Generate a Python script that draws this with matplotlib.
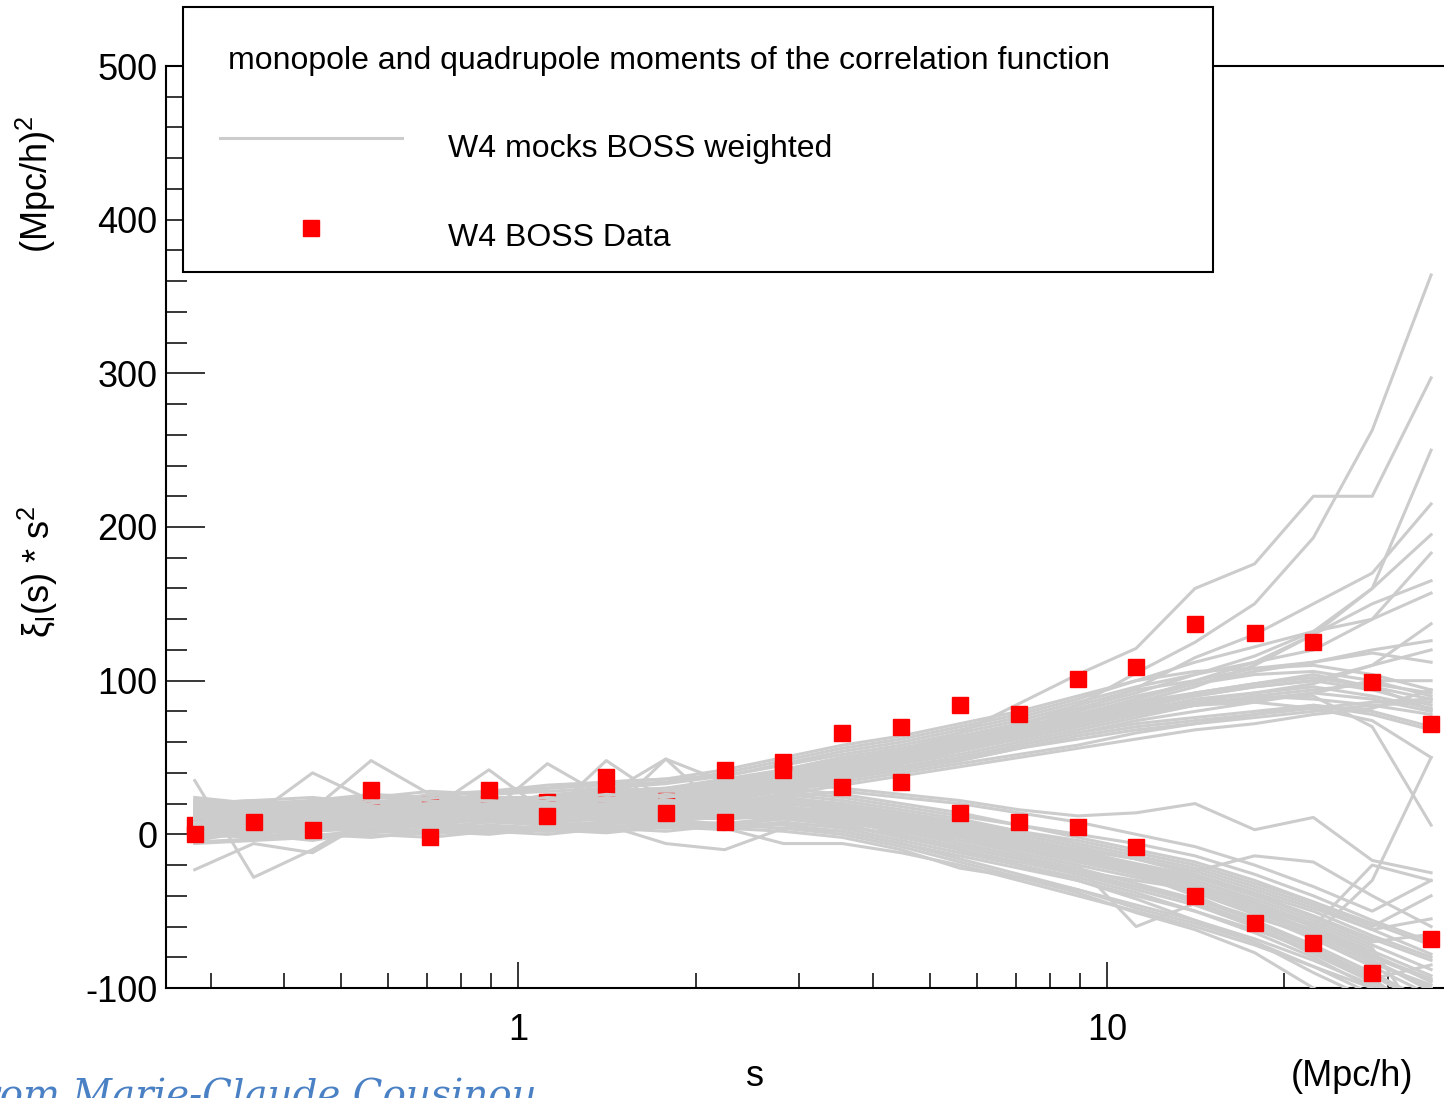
import matplotlib
matplotlib.use("Agg")
import matplotlib.pyplot as plt
from matplotlib.patches import Rectangle
from matplotlib.lines import Line2D
from matplotlib.ticker import FixedLocator, NullFormatter

plt.rcParams['font.family'] = ['Liberation Sans', 'DejaVu Sans']
plt.rcParams['mathtext.fontset'] = 'custom'
plt.rcParams['mathtext.rm'] = 'Liberation Sans'
plt.rcParams['mathtext.it'] = 'Liberation Sans'
plt.rcParams['mathtext.default'] = 'regular'
plt.rcParams['axes.unicode_minus'] = False

# separation bins (Mpc/h), 0.1 dex wide
s_bins = [0.282, 0.355, 0.447, 0.562, 0.708, 0.891, 1.12, 1.41, 1.78, 2.24, 2.82,
          3.55, 4.47, 5.62, 7.08, 8.91, 11.2, 14.1, 17.8, 22.4, 28.2, 35.5]

# BOSS W4 data: xi_0 * s^2 and xi_2 * s^2
data_mono = [6, 12, 15, 17, 19, 20, 21, 26, 22, 42, 47, 66, 70, 84, 78, 101, 109, 137, 131, 125, 99, 72]
data_quad = [0, 8, 3, 29, -2, 29, 12, 37, 14, 8, 42, 31, 34, 14, 8, 5, -8, -40, -58, -71, -90, -68]

# weighted mocks, monopole
mocks_mono = [
    [12, 14, 10, 18, 15, 20, 18, 22, 25, 30, 36, 44, 50, 57, 64, 72, 80, 88, 92, 96, 90, 82],
    [5, 8, 12, 10, 14, 12, 18, 20, 21, 26, 32, 40, 46, 55, 62, 70, 78, 84, 90, 94, 98, 92],
    [18, 16, 20, 22, 18, 24, 22, 28, 30, 34, 40, 48, 54, 62, 70, 78, 86, 92, 98, 102, 96, 88],
    [0, 4, 6, 8, 10, 12, 14, 16, 18, 24, 30, 38, 44, 50, 58, 66, 72, 76, 80, 84, 80, 70],
    [22, 20, 18, 25, 22, 26, 28, 30, 33, 38, 45, 52, 58, 66, 74, 84, 94, 100, 108, 110, 104, 94],
    [8, 10, 14, 12, 16, 18, 16, 20, 24, 28, 34, 42, 48, 56, 66, 76, 88, 100, 112, 130, 150, 165],
    [35, -28, -10, 12, 14, 16, 20, 22, 24, 28, 35, 42, 50, 58, 66, 75, 84, 90, 96, 100, 110, 120],
    [10, 12, 40, 22, 20, 18, 24, 26, 28, 32, 38, 46, 52, 60, 68, 80, 95, 115, 130, 150, 170, 215],
    [14, 12, 16, 48, 26, 22, 20, 24, 26, 30, 38, 44, 50, 58, 66, 76, 86, 96, 110, 130, 160, 195],
    [4, 6, 8, 10, 12, 14, 46, 24, 22, 26, 32, 40, 46, 52, 60, 68, 76, 84, 90, 88, 84, 78],
    [16, 18, 14, 16, 20, 22, 24, 26, 49, 34, 42, 50, 56, 64, 72, 80, 90, 98, 104, 106, 100, 90],
    [6, 10, 8, 14, 12, 16, 18, 16, 20, 25, 30, 36, 42, 48, 56, 64, 70, 74, 78, 82, 86, 88],
    [20, 22, 24, 20, 26, 28, 30, 32, 34, 40, 48, 56, 62, 70, 78, 88, 100, 112, 122, 132, 140, 157],
    [12, 8, 16, 18, 14, 20, 22, 24, 26, 30, 38, 46, 52, 60, 70, 84, 105, 125, 150, 193, 263, 364],
    [10, 14, 12, 16, 18, 16, 22, 20, 26, 30, 36, 44, 55, 66, 85, 104, 121, 160, 176, 220, 220, 297],
    [2, 6, 4, 8, 10, 12, 12, 16, 18, 22, 28, 34, 40, 46, 52, 58, 66, 72, 78, 84, 78, 68],
    [24, 20, 22, 26, 24, 28, 32, 34, 36, 42, 50, 58, 64, 72, 80, 90, 100, 106, 108, 112, 120, 126],
    [8, 12, 16, 14, 18, 20, 20, 24, 22, 28, 34, 42, 48, 56, 64, 72, 80, 86, 92, 98, 110, 137],
    [14, 16, 12, 20, 16, 18, 26, 28, 30, 36, 42, 50, 56, 62, 70, 76, 82, 86, 88, 90, 70, 6],
    [18, 14, 20, 16, 22, 24, 24, 30, 28, 34, 40, 47, 54, 60, 68, 76, 84, 92, 98, 104, 96, 81],
    [6, 8, 10, 12, 8, 14, 16, 18, 20, 24, 30, 38, 44, 50, 58, 66, 74, 80, 86, 92, 100, 100],
    [20, 18, 22, 24, 28, 26, 30, 34, 36, 38, 46, 54, 60, 68, 76, 86, 96, 104, 112, 120, 140, 183],
    [-4, 2, 4, 6, 8, 10, 12, 14, 16, 20, 26, 32, 38, 44, 50, 56, 62, 68, 72, 78, 82, 94],
    [10, 12, 14, 16, 18, 20, 22, 24, 26, 32, 38, 46, 52, 60, 68, 74, 80, 84, 86, 82, 74, 50],
    [16, 14, 18, 20, 22, 20, 24, 26, 28, 34, 40, 48, 54, 62, 72, 82, 92, 104, 116, 132, 160, 250],
    [9, 11, 13, 11, 15, 17, 15, 19, 21, 27, 33, 40, 47, 54, 62, 70, 78, 84, 88, 92, 88, 80],
    [13, 15, 11, 15, 17, 19, 21, 23, 25, 29, 35, 43, 49, 57, 65, 73, 82, 90, 96, 100, 94, 84],
    [3, 5, 7, 9, 11, 13, 15, 17, 19, 23, 29, 36, 42, 48, 56, 62, 68, 72, 76, 80, 84, 86],
    [19, 17, 21, 19, 23, 21, 25, 27, 29, 33, 39, 46, 53, 61, 69, 78, 88, 98, 106, 112, 118, 112],
]

# weighted mocks, quadrupole
mocks_quad = [
    [-23, -6, -12, 10, 8, 12, 10, 14, 12, 10, 12, 10, 4, -2, -10, -18, -26, -36, -50, -62, -80, -95],
    [2, 6, 4, 8, 6, 10, 8, 12, 10, 14, 18, 14, 8, 2, -6, -14, -22, -30, -42, -56, -72, -88],
    [12, 14, 10, 16, 12, 14, 18, 16, 20, 18, 22, 20, 14, 8, 0, -8, -16, -26, -38, -50, -66, -80],
    [6, 4, 8, 6, 10, 8, 12, 10, 8, 12, 10, 8, 2, -6, -14, -22, -32, -42, -56, -72, -90, -110],
    [18, 20, 16, 22, 18, 20, 24, 22, 26, 24, 30, 26, 20, 14, 6, -2, -10, -18, -30, -44, -60, -40],
    [0, -2, 2, 4, 2, 6, 4, 8, 6, 4, 8, 4, -4, -12, -20, -28, -38, -50, -64, -80, -100, -125],
    [10, 8, 12, 14, 16, 42, 14, 12, 16, 14, 16, 12, 6, 0, -8, -16, -24, -34, -46, -60, -78, -96],
    [14, 12, 16, 12, 14, 16, 12, 48, 22, 18, 20, 16, 10, 4, -4, -12, -20, -30, -44, -58, -74, -130],
    [4, 8, 6, 10, 12, 10, 14, 12, 14, 16, 14, 10, 0, -10, -20, -30, -42, -56, -70, -86, -104, -140],
    [20, 16, 22, 18, 20, 22, 20, 24, 22, 20, 26, 22, 16, 10, 2, -6, -14, -22, -34, -46, -62, -55],
    [8, 10, 6, 12, 10, 14, 10, 14, 18, 16, 20, 18, 12, 6, -2, -10, -20, -28, -40, -54, -70, -65],
    [16, 18, 20, 14, 18, 16, 20, 18, 16, 22, 24, 28, 24, 20, 14, 8, 0, -8, -20, -34, -50, -30],
    [-2, 0, -4, 2, 0, 4, 2, 6, 4, 8, 6, 2, -6, -16, -26, -36, -46, -56, -68, -82, -98, -115],
    [12, 10, 14, 10, 12, 10, 16, 14, 12, 16, 18, 14, 8, 2, -6, -14, -24, -34, -48, -64, -82, -100],
    [6, 8, 10, 8, 6, 12, 8, 10, 12, 10, 14, 12, 6, 0, -8, -16, -26, -38, -52, -68, -86, -105],
    [22, 18, 20, 24, 22, 18, 22, 26, 24, 28, 34, 30, 26, 22, 16, 12, 14, 20, 3, 11, -17, -25],
    [10, 12, 8, 10, 14, 12, 10, 12, 49, 14, 12, 8, 2, -6, -14, -24, -34, -44, -58, -74, -92, -112],
    [4, 2, 6, 8, 4, 8, 6, 4, 8, 6, 10, 6, -2, -10, -18, -26, -34, -42, -54, -66, -30, 50],
    [14, 16, 12, 14, 16, 18, 16, 20, 18, 22, 20, 18, 12, 4, -4, -14, -26, -40, -56, -74, -94, -120],
    [8, 6, 10, 12, 8, 10, 12, 16, 14, 12, 16, 14, 8, 2, -4, -10, -16, -24, -36, -48, -62, -78],
    [18, 14, 16, 18, 20, 16, 18, 20, 22, 20, 24, 20, 14, 8, 0, -8, -16, -24, -14, -18, -40, -60],
    [0, 4, 2, 6, 4, 2, 6, 8, 6, 4, -6, -6, -12, -20, -30, -40, -50, -60, -72, -86, -100, -118],
    [10, 14, 12, 16, 14, 12, 14, 10, 12, 14, 16, 10, 4, -2, -12, -20, -60, -45, -60, -76, -96, -135],
    [2, 0, 4, 2, 6, 4, 2, 6, -6, -10, 4, 2, -6, -14, -22, -30, -40, -50, -62, -76, -94, -85],
    [14, 10, 12, 16, 10, 14, 12, 16, 14, 18, 22, 18, 12, 8, 2, -4, -12, -20, -32, -44, -58, -72],
    [-5, -3, 0, -2, 2, 0, 4, 2, 6, 4, 2, -2, -10, -22, -28, -36, -48, -58, -70, -90, -108, -130],
    [20, 22, 18, 20, 24, 22, 18, 22, 20, 24, 28, 24, 18, 12, 6, 0, -6, -14, -26, -40, -56, -70],
    [3, 1, 5, 3, 7, 5, 3, 7, 9, 7, 11, 7, -2, -8, -16, -24, -30, -36, -44, -60, -82, -102],
    [16, 14, 18, 14, 16, 20, 16, 18, 22, 20, 24, 16, 10, 6, -2, -12, -22, -32, -46, -60, -76, -92],
    [-6, -4, -2, 0, -2, 2, 0, 4, 2, 6, 4, 0, -8, -18, -28, -38, -51, -62, -77, -100, -120, -145],
    [11, 9, 13, 11, 9, 13, 11, 9, 13, 15, 13, 9, 3, -4, -12, -20, -28, -36, -50, -66, -84, -98],
    [7, 11, 9, 7, 11, 9, 7, 11, 9, 11, 15, 11, 5, -1, -9, -17, -25, -33, -47, -63, -79, -94],
    [17, 15, 13, 17, 15, 19, 17, 15, 19, 17, 21, 17, 11, 5, -3, -11, -19, -27, -39, -53, -68, -82],
    [1, 3, -1, 3, 1, 5, 3, 1, 5, 3, 7, 5, 0, -8, -16, -26, -36, -46, -60, -78, -96, -120],
    [13, 17, 15, 13, 17, 15, 13, 17, 15, 13, 17, 15, 9, 3, -5, -13, -23, -33, -45, -60, -20, -30],
]

mock_color = '#cccccc'
data_color = '#ff0000'

W, H = 1444, 1098
fig = plt.figure(figsize=(W / 100, H / 100), dpi=100)

def fx(px):
    return px / W

def fy(py):
    return 1 - py / H

# frame runs past the right edge of the canvas
ax = fig.add_axes([fx(166), fy(988), fx(1461.6) - fx(166), fy(66) - fy(988)])
ax.set_xscale('log')
ax.set_xlim(0.252, 40)
ax.set_ylim(-100, 500)

for m in mocks_mono:
    ax.plot(s_bins, m, color=mock_color, lw=2.2, zorder=3)
ax.plot(s_bins, data_mono, ls='none', marker='s', ms=11.5, color=data_color, mec=data_color, zorder=4)
for q in mocks_quad:
    ax.plot(s_bins, q, color=mock_color, lw=2.2, zorder=5)
ax.plot(s_bins, data_quad, ls='none', marker='s', ms=11.5, color=data_color, mec=data_color, zorder=6)

for sp in ax.spines.values():
    sp.set_linewidth(1.5)

ax.yaxis.set_major_locator(FixedLocator([-100, 0, 100, 200, 300, 400, 500]))
ax.yaxis.set_minor_locator(FixedLocator([v for v in range(-100, 501, 20) if v % 100]))
ax.xaxis.set_major_locator(FixedLocator([1, 10]))
ax.xaxis.set_minor_locator(FixedLocator([0.3, 0.4, 0.5, 0.6, 0.7, 0.8, 0.9,
                                         2, 3, 4, 5, 6, 7, 8, 9, 20, 30]))
ax.xaxis.set_minor_formatter(NullFormatter())
ax.set_xticklabels(['1', '10'])
ax.tick_params(axis='y', which='major', direction='in', length=28, width=1.1,
               labelsize=26, pad=6, right=False)
ax.tick_params(axis='y', which='minor', direction='in', length=15, width=1.1, right=False)
ax.tick_params(axis='x', which='major', direction='in', length=19, width=1.1,
               labelsize=26, pad=18, top=False)
ax.tick_params(axis='x', which='minor', direction='in', length=11, width=1.1, top=False)

# axis titles
fig.text(fx(38), fy(572), r'$\xi_{l}$(s) * s$^{2}$', rotation=90, fontsize=26,
         ha='center', va='center')
fig.text(fx(36), fy(184), r'(Mpc/h)$^{2}$', rotation=90, fontsize=26,
         ha='center', va='center')
fig.text(fx(755), fy(1077), 's', fontsize=26, ha='center', va='center')
fig.text(fx(1352), fy(1077), '(Mpc/h)', fontsize=26, ha='center', va='center')

# legend box
fig.add_artist(Rectangle((fx(183), fy(272)), fx(1213) - fx(183), fy(7) - fy(272),
                         transform=fig.transFigure, facecolor='white',
                         edgecolor='black', lw=1.5, zorder=10))
fig.text(fx(228), fy(61), 'monopole and quadrupole moments of the correlation function',
         fontsize=23, ha='left', va='center', zorder=11)
fig.add_artist(Line2D([fx(220), fx(402)], [fy(138), fy(138)], color=mock_color,
                      lw=2.2, transform=fig.transFigure, zorder=11))
fig.text(fx(448), fy(149), 'W4 mocks BOSS weighted', fontsize=23,
         ha='left', va='center', zorder=11)
fig.add_artist(Line2D([fx(311)], [fy(228)], ls='none', marker='s', ms=11.5,
                      color=data_color, transform=fig.transFigure, zorder=11))
fig.text(fx(448), fy(238), 'W4 BOSS Data', fontsize=23,
         ha='left', va='center', zorder=11)

# credit line, partly below and left of the canvas
fig.text(fx(537), fy(1107), 'From Marie-Claude Cousinou', fontsize=28,
         family='DejaVu Serif', style='italic', color='#4a80c4',
         ha='right', va='baseline')

fig.savefig('out.png', dpi=100)
